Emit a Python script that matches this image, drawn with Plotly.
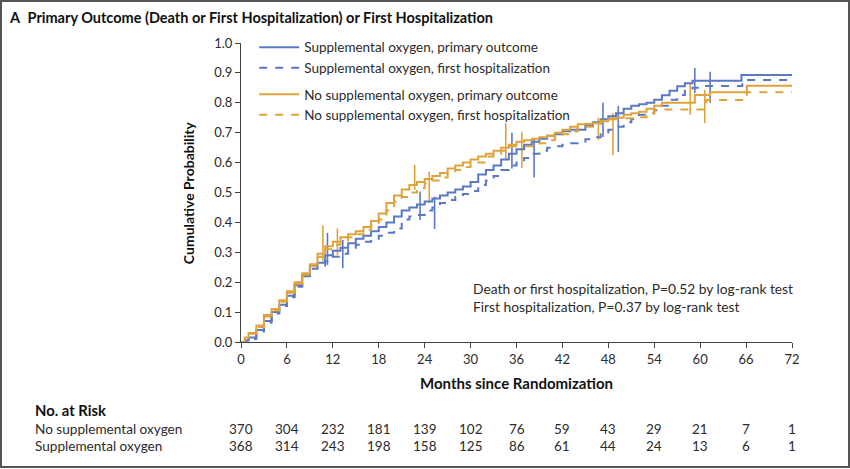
import plotly.graph_objects as go

# ---------------- data ----------------
sup_primary_t = [0, 0.5, 1, 2, 3, 4, 5, 6, 7, 8, 9, 10, 11, 12, 13, 14, 15, 16, 17, 18, 19, 20, 21, 22, 23, 24,
                 25, 26, 27, 28, 29, 30, 31, 32, 33, 34, 35, 36, 37, 38, 39, 40, 41, 42, 43, 44, 45, 46, 47, 48,
                 49, 50, 51, 52, 53, 54, 55, 56, 57, 58, 59, 65.4, 72]
sup_primary_v = [0, 0.005, 0.015, 0.04, 0.07, 0.1, 0.125, 0.155, 0.19, 0.225, 0.255, 0.265, 0.29, 0.305, 0.315,
                 0.33, 0.345, 0.355, 0.37, 0.385, 0.4, 0.42, 0.44, 0.45, 0.46, 0.47, 0.48, 0.49, 0.5, 0.51, 0.52,
                 0.535, 0.56, 0.575, 0.59, 0.61, 0.63, 0.645, 0.66, 0.67, 0.68, 0.69, 0.695, 0.705, 0.71, 0.71,
                 0.725, 0.735, 0.745, 0.755, 0.765, 0.78, 0.79, 0.795, 0.8, 0.81, 0.825, 0.84, 0.855, 0.865,
                 0.874, 0.893, 0.893]

sup_hosp_t = [0, 0.5, 1, 2, 3, 4, 5, 6, 7, 8, 9, 10, 11, 12, 13, 14, 15, 16, 17, 18, 19, 20, 21, 22, 23, 24,
              25, 26, 27, 28, 29, 30, 31, 32, 33, 34, 35, 36, 37, 38, 39, 40, 41, 42, 43, 44, 45, 46, 47, 48,
              49, 50, 51, 52, 53, 54, 55, 56, 57, 58, 59, 60, 65.5, 72]
sup_hosp_v = [0, 0.004, 0.01, 0.035, 0.065, 0.095, 0.12, 0.15, 0.185, 0.22, 0.245, 0.255, 0.27, 0.285, 0.295,
              0.31, 0.325, 0.335, 0.345, 0.355, 0.365, 0.38, 0.41, 0.42, 0.425, 0.44, 0.45, 0.465, 0.475, 0.485,
              0.495, 0.505, 0.525, 0.54, 0.555, 0.575, 0.59, 0.6, 0.615, 0.63, 0.64, 0.65, 0.655, 0.66, 0.665,
              0.67, 0.678, 0.685, 0.695, 0.71, 0.72, 0.735, 0.745, 0.76, 0.765, 0.775, 0.79, 0.81, 0.826, 0.84,
              0.85, 0.856, 0.876, 0.876]

nosup_primary_t = [0, 0.5, 1, 2, 3, 4, 5, 6, 7, 8, 9, 10, 11, 12, 13, 14, 15, 16, 17, 18, 19, 20, 21, 22, 23,
                   24, 25, 26, 27, 28, 29, 30, 31, 32, 33, 34, 35, 36, 37, 38, 39, 40, 41, 42, 43, 44, 45, 46,
                   47, 48, 49, 50, 51, 52, 53, 54, 55, 59.3, 61.3, 66.1, 72]
nosup_primary_v = [0, 0.015, 0.03, 0.055, 0.09, 0.11, 0.14, 0.17, 0.2, 0.23, 0.26, 0.295, 0.32, 0.335, 0.35,
                   0.36, 0.37, 0.385, 0.405, 0.43, 0.465, 0.49, 0.51, 0.525, 0.535, 0.545, 0.555, 0.565, 0.58,
                   0.59, 0.6, 0.61, 0.62, 0.63, 0.64, 0.65, 0.66, 0.67, 0.675, 0.68, 0.685, 0.69, 0.7, 0.71, 0.72,
                   0.728, 0.73, 0.732, 0.738, 0.745, 0.75, 0.76, 0.765, 0.77, 0.78, 0.79, 0.8, 0.826, 0.835,
                   0.857, 0.857]

nosup_hosp_t = [0, 0.5, 1, 2, 3, 4, 5, 6, 7, 8, 9, 10, 11, 12, 13, 14, 15, 16, 17, 18, 19, 20, 21, 22, 23, 24,
                25, 26, 27, 28, 29, 30, 31, 32, 33, 34, 35, 39, 40, 41, 42, 43, 44, 45, 46, 47, 48, 52, 53,
                54, 60.8, 66.1, 72]
nosup_hosp_v = [0, 0.012, 0.028, 0.05, 0.085, 0.105, 0.135, 0.165, 0.195, 0.225, 0.255, 0.285, 0.31, 0.325,
                0.34, 0.35, 0.36, 0.375, 0.39, 0.41, 0.44, 0.47, 0.485, 0.5, 0.515, 0.53, 0.54, 0.55, 0.565,
                0.575, 0.585, 0.595, 0.6, 0.62, 0.63, 0.64, 0.655, 0.665, 0.675, 0.685, 0.695, 0.705, 0.715,
                0.72, 0.73, 0.74, 0.748, 0.752, 0.765, 0.778, 0.809, 0.835, 0.835]

# 95% confidence interval bars
nosup_ci_t = [10.7, 12.6, 22.7, 24.6, 34.6, 36.7, 46.7, 48.6, 58.7, 60.6]
nosup_ci_lo = [0.27, 0.29, 0.508, 0.465, 0.609, 0.582, 0.675, 0.625, 0.76, 0.732]
nosup_ci_hi = [0.39, 0.38, 0.592, 0.57, 0.732, 0.703, 0.75, 0.766, 0.866, 0.843]
sup_ci_t = [11.3, 13.3, 23.4, 25.3, 35.4, 38.3, 47.3, 49.3, 59.3, 61.3]
sup_ci_lo = [0.258, 0.247, 0.408, 0.378, 0.58, 0.55, 0.686, 0.635, 0.833, 0.80]
sup_ci_hi = [0.365, 0.341, 0.503, 0.486, 0.70, 0.68, 0.80, 0.79, 0.916, 0.904]

x_ticks = [0, 6, 12, 18, 24, 30, 36, 42, 48, 54, 60, 66, 72]
y_ticks = [0.0, 0.1, 0.2, 0.3, 0.4, 0.5, 0.6, 0.7, 0.8, 0.9, 1.0]
risk_title = "No. at Risk"
risk_groups = ["No supplemental oxygen", "Supplemental oxygen"]
risk_nosup = [370, 304, 232, 181, 139, 102, 76, 59, 43, 29, 21, 7, 1]
risk_sup = [368, 314, 243, 198, 158, 125, 86, 61, 44, 24, 13, 6, 1]

labels = ["Supplemental oxygen, primary outcome",
          "Supplemental oxygen, first hospitalization",
          "No supplemental oxygen, primary outcome",
          "No supplemental oxygen, first hospitalization"]

# ---------------- style ----------------
BLUE = "#5b78c4"
ORANGE = "#dfa33b"
TXT = "#2b2b2b"
FONT = "Lato"

fig = go.Figure()


def ci_xy(ts, lo, hi):
    xs, ys = [], []
    for t, a, b in zip(ts, lo, hi):
        xs += [t, t, None]
        ys += [a, b, None]
    return xs, ys


x, y = ci_xy(nosup_ci_t, nosup_ci_lo, nosup_ci_hi)
fig.add_trace(go.Scatter(x=x, y=y, mode="lines", line=dict(color=ORANGE, width=1.6),
                         showlegend=False, hoverinfo="skip"))
x, y = ci_xy(sup_ci_t, sup_ci_lo, sup_ci_hi)
fig.add_trace(go.Scatter(x=x, y=y, mode="lines", line=dict(color=BLUE, width=1.6),
                         showlegend=False, hoverinfo="skip"))

series = [
    (sup_primary_t, sup_primary_v, BLUE, "solid", "g1"),
    (sup_hosp_t, sup_hosp_v, BLUE, "8px,8px", "g1"),
    (nosup_primary_t, nosup_primary_v, ORANGE, "solid", "g2"),
    (nosup_hosp_t, nosup_hosp_v, ORANGE, "8px,8px", "g2"),
]
for (t, v, c, d, g), name in zip(series, labels):
    fig.add_trace(go.Scatter(x=t, y=v, mode="lines", name=name, legendgroup=g,
                             line=dict(color=c, width=2, dash=d, shape="hv")))

axis_common = dict(showline=True, linecolor="#444", linewidth=1.2, ticks="outside",
                   tickcolor="#444", ticklen=5, showgrid=False, zeroline=False,
                   tickfont=dict(family=FONT, size=13, color=TXT))

fig.update_layout(
    width=850, height=469,
    margin=dict(l=241, r=58, t=43, b=127),
    paper_bgcolor="white", plot_bgcolor="white",
    font=dict(family=FONT, color=TXT),
    xaxis=dict(range=[0, 72], tickvals=x_ticks, ticktext=[str(v) for v in x_ticks], **axis_common),
    yaxis=dict(range=[0, 1.0], tickvals=y_ticks, ticktext=[f"{v:.1f}" for v in y_ticks], **axis_common),
    legend=dict(x=0.024, y=1.037, xanchor="left", yanchor="top", bgcolor="rgba(0,0,0,0)",
                font=dict(family=FONT, size=13.5, color=TXT), traceorder="grouped",
                tracegroupgap=6, itemwidth=40),
    showlegend=True,
)

LX = (33 - 241) / 551  # left edge of the risk table labels, in paper units
ann = []
ann.append(dict(text="<b>A</b>  <b>Primary Outcome (Death or First Hospitalization) or First Hospitalization</b>",
                xref="paper", yref="paper", x=-0.425, y=1.085, xanchor="left", yanchor="middle",
                showarrow=False, font=dict(family=FONT, size=14.5, color="#111")))
ann.append(dict(text="<b>Months since Randomization</b>", xref="paper", yref="paper",
                x=0.5, y=-0.137, xanchor="center", yanchor="middle", showarrow=False,
                font=dict(family=FONT, size=15, color="#111")))
ann.append(dict(text="<b>Cumulative Probability</b>", xref="paper", yref="paper", textangle=-90,
                x=-0.095, y=0.5, xanchor="center", yanchor="middle", showarrow=False,
                font=dict(family=FONT, size=14, color="#111")))
ann.append(dict(text="Death or first hospitalization, P=0.52 by log-rank test<br>"
                     "First hospitalization, P=0.37 by log-rank test",
                xref="paper", yref="paper", x=0.417, y=0.15, xanchor="left", yanchor="middle",
                align="left", showarrow=False, font=dict(family=FONT, size=13.8, color=TXT)))
ann.append(dict(text="<span style='font-size:14.8px;color:#111'><b>" + risk_title + "</b></span><br>"
                     + "<br>".join(risk_groups),
                xref="paper", yref="paper", x=LX, y=-0.2876,
                xanchor="left", yanchor="middle", align="left", showarrow=False,
                font=dict(family=FONT, size=13.6, color=TXT)))
for t, a, b in zip(x_ticks, risk_nosup, risk_sup):
    ann.append(dict(text=str(a), xref="x", yref="paper", x=t, y=-0.29, xanchor="center",
                    yanchor="middle", showarrow=False, font=dict(family=FONT, size=13.5, color=TXT)))
    ann.append(dict(text=str(b), xref="x", yref="paper", x=t, y=-0.347, xanchor="center",
                    yanchor="middle", showarrow=False, font=dict(family=FONT, size=13.5, color=TXT)))
fig.update_layout(annotations=ann)

# outer frame
fig.add_shape(type="rect", xref="paper", yref="paper",
              x0=-240 / 551, x1=608 / 551, y0=-125 / 299, y1=341 / 299,
              line=dict(color="#555", width=2), fillcolor="rgba(0,0,0,0)", layer="below")

fig.write_html("out.html", config={"displayModeBar": False},
               post_script="document.body.style.margin='0';document.body.style.overflow='hidden';")
